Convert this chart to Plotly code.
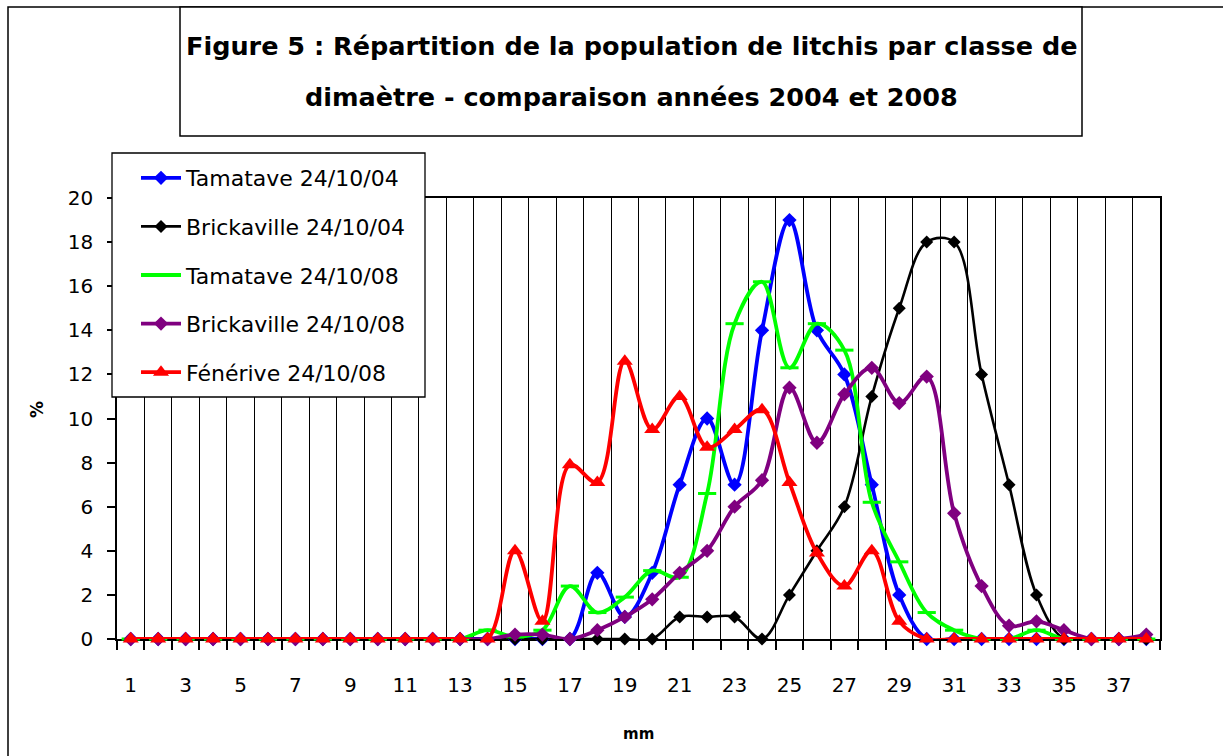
import plotly.graph_objects as go

# ---- data ----
classes = list(range(1, 39))
tamatave_04 = [0]*16 + [0, 3, 1, 3, 7, 10, 7, 14, 19, 14, 12, 7, 2] + [0]*9
brickaville_04 = [0]*20 + [1, 1, 1, 0, 2, 4, 6, 11, 15, 18, 18, 12, 7, 2, 0, 0, 0, 0]
tamatave_08 = [0]*13 + [0.4, 0.1, 0.4, 2.4, 1.2, 1.9, 3.1, 2.8, 6.6, 14.3, 16.2, 12.3,
                        14.3, 13.1, 6.2, 3.5, 1.2, 0.4, 0, 0, 0.4, 0, 0, 0, 0]
brickaville_08 = [0]*14 + [0.2, 0.2, 0, 0.4, 1.0, 1.8, 3.0, 4.0, 6.0, 7.2, 11.4, 8.9,
                           11.1, 12.3, 10.7, 11.9, 5.7, 2.4, 0.6, 0.8, 0.4, 0, 0, 0.2]
fenerive_08 = [0]*14 + [4, 0.8, 7.9, 7.1, 12.6, 9.5, 11, 8.7, 9.5, 10.4, 7.1, 3.9,
                        2.4, 4.0, 0.8] + [0]*9
x_ticks = list(range(1, 38, 2))
boundaries = [b + 0.5 for b in range(0, 39)]

FONT = "DejaVu Sans"

series = [
    ("Tamatave 24/10/04", tamatave_04, "#0000FF", dict(symbol="diamond", size=11), 3.8),
    ("Brickaville 24/10/04", brickaville_04, "#000000", dict(symbol="diamond", size=10), 2.6),
    ("Tamatave 24/10/08", tamatave_08, "#00FF00",
     dict(symbol="line-ew", size=13, line=dict(width=3, color="#00FF00")), 3.8),
    ("Brickaville 24/10/08", brickaville_08, "#800080", dict(symbol="diamond", size=11), 3.8),
    ("Fénérive 24/10/08", fenerive_08, "#FF0000", dict(symbol="triangle-up", size=14), 3.8),
]

fig = go.Figure()
for i, (name, vals, color, mk, lw) in enumerate(series):
    mk = dict(mk)
    mk["color"] = color
    fig.add_trace(go.Scatter(
        x=classes, y=vals, name=name, mode="lines+markers",
        line=dict(color=color, width=lw, shape="spline", smoothing=1.0),
        marker=mk, cliponaxis=False, legendgroup=f"g{i}",
    ))

# plot-area geometry helpers (pixels -> paper)
L, R, T, B = 117, 1160, 198, 639
W, H = R - L, B - T
px = lambda x: (x - L) / W
py = lambda y: (B - y) / H

fig.update_layout(
    width=1223, height=756,
    margin=dict(l=L, r=1223 - R, t=T, b=756 - B),
    paper_bgcolor="white", plot_bgcolor="white",
    font=dict(family=FONT, color="black", size=20),
    showlegend=True,
    legend=dict(
        x=px(136), y=py(157), xanchor="left", yanchor="top",
        bgcolor="rgba(0,0,0,0)", borderwidth=0,
        font=dict(family=FONT, size=22, color="black"),
        tracegroupgap=17, traceorder="grouped", itemwidth=40,
    ),
    xaxis=dict(
        range=[0.5, 38.5], tickmode="array", tickvals=x_ticks,
        ticktext=[str(t) for t in x_ticks], ticks="", showgrid=False,
        zeroline=False, showline=True, linecolor="black", linewidth=1.5,
        mirror=True, layer="below traces", ticklabelstandoff=27,
        tickfont=dict(size=20),
        minor=dict(tickmode="array", tickvals=boundaries, ticks="outside",
                   ticklen=9, tickcolor="black", tickwidth=1.5,
                   showgrid=True, gridcolor="black", gridwidth=1.3),
    ),
    yaxis=dict(
        range=[0, 20], dtick=2, tick0=0, ticks="outside", ticklen=8,
        tickcolor="black", tickwidth=1.5, showgrid=False, zeroline=False,
        showline=True, linecolor="black", linewidth=1.5, mirror=True,
        layer="below traces", ticklabelstandoff=10, tickfont=dict(size=20),
    ),
)

# outer chart border
fig.add_shape(type="rect", xref="paper", yref="paper",
              x0=px(8), x1=px(1240), y0=py(775), y1=py(7),
              line=dict(color="black", width=1.5), layer="below")
# title box
fig.add_shape(type="rect", xref="paper", yref="paper",
              x0=px(180), x1=px(1082), y0=py(136), y1=py(7),
              line=dict(color="black", width=1.5), fillcolor="white", layer="below")
# legend box
fig.add_shape(type="rect", xref="paper", yref="paper",
              x0=px(112), x1=px(425), y0=py(397), y1=py(153),
              line=dict(color="black", width=1.3), fillcolor="white", layer="above")

fig.add_annotation(text="<b>Figure 5 : Répartition de la population de litchis par classe de</b>",
                   xref="paper", yref="paper", x=px(631), y=py(46),
                   showarrow=False, font=dict(size=25.5, family=FONT),
                   xanchor="center", yanchor="middle")
fig.add_annotation(text="<b>dimaètre - comparaison années 2004 et 2008</b>",
                   xref="paper", yref="paper", x=px(631), y=py(97),
                   showarrow=False, font=dict(size=25.5, family=FONT),
                   xanchor="center", yanchor="middle")
fig.add_annotation(text="<b>%</b>", xref="paper", yref="paper", x=px(37), y=py(410),
                   showarrow=False, textangle=-90, font=dict(size=17, family=FONT),
                   xanchor="center", yanchor="middle")
fig.add_annotation(text="<b>mm</b>", xref="paper", yref="paper", x=px(638), y=py(734),
                   showarrow=False, font=dict(size=15, family=FONT),
                   xanchor="center", yanchor="middle")

fig.write_html("out.html", config={"displayModeBar": False},
               post_script="document.body.style.margin='0';")
